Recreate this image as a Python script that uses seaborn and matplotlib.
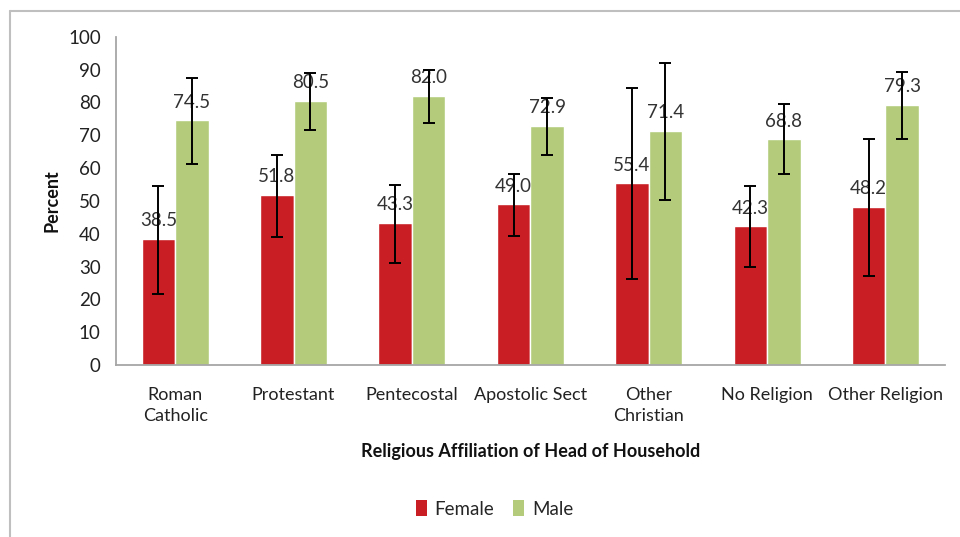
import numpy as np
import pandas as pd
import matplotlib
matplotlib.use('Agg')
import matplotlib.pyplot as plt
from matplotlib.lines import Line2D
from matplotlib.patches import Patch
import seaborn as sns

# values
categories = ["Roman\nCatholic", "Protestant", "Pentecostal", "Apostolic Sect",
              "Other\nChristian", "No Religion", "Other Religion"]
female = [38.5, 51.8, 43.3, 49.0, 55.4, 42.3, 48.2]
male = [74.5, 80.5, 82.0, 72.9, 71.4, 68.8, 79.3]
female_lo = [21.6, 39.1, 31.0, 39.4, 26.1, 29.8, 27.2]
female_hi = [54.6, 64.0, 54.8, 58.2, 84.4, 54.4, 68.9]
male_lo = [61.3, 71.6, 73.6, 64.0, 50.2, 58.2, 68.9]
male_hi = [87.5, 89.0, 89.9, 81.4, 91.9, 79.5, 89.3]

red = "#C91F24"
green = "#B3CB7A"
gray = "#A6A6A6"

df = pd.DataFrame({
    "category": categories * 2,
    "sex": ["Female"] * len(categories) + ["Male"] * len(categories),
    "value": female + male,
})

sns.set_theme(style="white")
plt.rcParams['font.family'] = ['Lato', 'DejaVu Sans']

fig = plt.figure(figsize=(9.6, 5.37), dpi=100)
ax = fig.add_axes([0.1208, 0.3203, 0.8632, 0.6114])

sns.barplot(data=df, x="category", y="value", hue="sex", order=categories,
            hue_order=["Female", "Male"], palette=[red, green],
            width=0.565, gap=0, errorbar=None, saturation=1, ax=ax)

# asymmetric error bars and value labels on each bar
for cont, vals, lo, hi in zip(ax.containers, [female, male],
                              [female_lo, male_lo], [female_hi, male_hi]):
    xs = [p.get_x() + p.get_width() / 2 for p in cont]
    yerr = np.array([np.array(vals) - np.array(lo), np.array(hi) - np.array(vals)])
    ax.errorbar(xs, vals, yerr=yerr, fmt="none", ecolor="black",
                elinewidth=1.4, capsize=4.5, capthick=1.4, zorder=5)
    for x, v in zip(xs, vals):
        ax.annotate(f"{v:.1f}", (x, v), xytext=(0, 13), textcoords="offset points",
                    ha="center", va="center", fontsize=13.5, color="#333333", zorder=4)

ax.set_ylim(0, 100)
ax.set_yticks(range(0, 101, 10))
ax.set_xlim(-0.5, len(categories) - 0.5)
ax.set_xticks(np.arange(-0.5, len(categories), 1.0), minor=False)
ax.set_xticklabels([])
ax.set_xticks(np.arange(len(categories)), minor=True)
ax.set_xticklabels(categories, minor=True, fontsize=13, color="#222222", linespacing=1.35)
ax.tick_params(axis="x", which="minor", length=0, pad=16)
ax.tick_params(axis="x", which="major", length=5, color=gray, width=1.2, direction="out")
ax.tick_params(axis="y", length=5, color=gray, width=1.2, direction="out",
               labelsize=13.5, labelcolor="#222222", pad=6)

for s in ["top", "right"]:
    ax.spines[s].set_visible(False)
for s in ["left", "bottom"]:
    ax.spines[s].set_color(gray)
    ax.spines[s].set_linewidth(1.3)

ax.set_xlabel("Religious Affiliation of Head of Household", fontsize=13,
              fontweight="bold", color="#111111", labelpad=14)
ax.set_ylabel("Percent", fontsize=13, fontweight="bold", color="#111111", labelpad=5)

if ax.get_legend() is not None:
    ax.get_legend().remove()
handles = [Patch(facecolor=red, edgecolor="none", label="Female"),
           Patch(facecolor=green, edgecolor="none", label="Male")]
fig.legend(handles=handles, loc="center", bbox_to_anchor=(0.515, 0.052), ncol=2,
           frameon=False, fontsize=13.5, handlelength=0.6, handleheight=0.9,
           handletextpad=0.4, columnspacing=1.0)

# outer chart frame (cut off at right and bottom)
fx = 10 / 960
fy = 1 - 11 / 537
fig.add_artist(Line2D([fx, fx], [0, fy], transform=fig.transFigure, color="#BFBFBF", lw=1.5))
fig.add_artist(Line2D([fx, 1], [fy, fy], transform=fig.transFigure, color="#BFBFBF", lw=1.5))

fig.savefig("out.png", dpi=100)
